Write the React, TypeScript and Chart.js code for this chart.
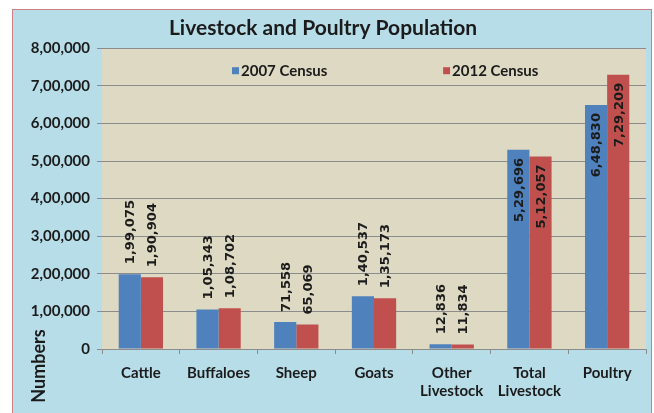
import React, { useEffect, useRef } from "react";
import { Chart, registerables } from "chart.js";

Chart.register(...registerables);

const title = "Livestock and Poultry Population";
const yAxisTitle = "Numbers";
const categories: (string | string[])[] = [
  "Cattle",
  "Buffaloes",
  "Sheep",
  "Goats",
  ["Other", "Livestock"],
  ["Total", "Livestock"],
  "Poultry",
];
const seriesNames = ["2007 Census", "2012 Census"];
const census2007 = [199075, 105343, 71558, 140537, 12836, 529696, 648830];
const census2012 = [190904, 108702, 65069, 135173, 11834, 512057, 729209];
const yMin = 0;
const yMax = 800000;
const yStep = 100000;

const BLUE = "#4f81bd";
const RED = "#c0504d";
const TEXT = "#1b1b1b";
const GRID = "#8c8c8c";

function indian(n: number): string {
  const s = String(Math.round(n));
  if (s.length <= 3) return s;
  const last3 = s.slice(-3);
  const rest = s.slice(0, -3).replace(/\B(?=(\d{2})+(?!\d))/g, ",");
  return rest + "," + last3;
}

const framePlugin = {
  id: "frame",
  beforeDraw(chart: any) {
    const { ctx, width, height, chartArea } = chart;
    ctx.save();
    ctx.fillStyle = "#ffffff";
    ctx.fillRect(0, 0, width, height);
    ctx.fillStyle = "#b7dde8";
    ctx.fillRect(12, 9, 640, height);
    ctx.strokeStyle = "#cf7f86";
    ctx.lineWidth = 1;
    ctx.strokeRect(12.5, 9.5, 639, height + 5);
    ctx.fillStyle = "#ddd9c3";
    ctx.fillRect(chartArea.left, chartArea.top, chartArea.right - chartArea.left, chartArea.bottom - chartArea.top);
    ctx.restore();
  },
};

const labelsPlugin = {
  id: "valueLabels",
  afterDatasetsDraw(chart: any) {
    const { ctx } = chart;
    ctx.save();
    ctx.font = "bold 13px 'DejaVu Sans'";
    ctx.fillStyle = TEXT;
    ctx.textBaseline = "middle";
    chart.data.datasets.forEach((ds: any, di: number) => {
      const meta = chart.getDatasetMeta(di);
      meta.data.forEach((bar: any, i: number) => {
        const v = ds.data[i] as number;
        const text = indian(v);
        ctx.save();
        ctx.translate(bar.x + 1, bar.y);
        ctx.rotate(-Math.PI / 2);
        if (v >= 400000) {
          ctx.textAlign = "right";
          ctx.fillText(text, -8, 0);
        } else {
          ctx.textAlign = "left";
          ctx.fillText(text, 10, 0);
        }
        ctx.restore();
      });
    });
    ctx.restore();
  },
};

const legendPlugin = {
  id: "insideLegend",
  afterDraw(chart: any) {
    const { ctx, chartArea } = chart;
    const w = chartArea.right - chartArea.left;
    const fracs = [0.239, 0.627];
    ctx.save();
    ctx.font = "bold 15px Lato";
    ctx.textBaseline = "middle";
    ctx.textAlign = "left";
    chart.data.datasets.forEach((ds: any, di: number) => {
      const x = chartArea.left + w * fracs[di];
      const y = chartArea.top + 22;
      ctx.fillStyle = ds.backgroundColor;
      ctx.fillRect(x, y - 3, 7, 7);
      ctx.fillStyle = TEXT;
      ctx.fillText(ds.label, x + 9, y + 1);
    });
    // y axis title
    ctx.translate(39, 366);
    ctx.rotate(-Math.PI / 2);
    ctx.font = "bold 18px Lato";
    ctx.textAlign = "center";
    ctx.fillStyle = TEXT;
    ctx.fillText(yAxisTitle, 0, 0);
    ctx.restore();
  },
};

export default function App() {
  const ref = useRef<HTMLCanvasElement | null>(null);

  useEffect(() => {
    document.body.style.margin = "0";
    const canvas = ref.current;
    if (!canvas) return;
    const chart = new Chart(canvas, {
      type: "bar",
      data: {
        labels: categories as any,
        datasets: [
          {
            label: seriesNames[0],
            data: census2007,
            backgroundColor: BLUE,
            categoryPercentage: 0.57,
            barPercentage: 1.0,
          },
          {
            label: seriesNames[1],
            data: census2012,
            backgroundColor: RED,
            categoryPercentage: 0.57,
            barPercentage: 1.0,
          },
        ],
      },
      options: {
        responsive: false,
        animation: false,
        devicePixelRatio: 1,
        layout: { padding: { left: 0, right: 8, top: 0, bottom: 0 } },
        plugins: {
          legend: { display: false },
          tooltip: { enabled: false },
          title: {
            display: true,
            text: title,
            color: TEXT,
            font: { family: "Lato", size: 21, weight: "bold" },
            padding: { top: 16, bottom: 7 },
          },
        },
        scales: {
          x: {
            grid: {
              drawOnChartArea: false,
              drawTicks: true,
              tickLength: 5,
              color: GRID,
              offset: true,
            },
            border: { display: true, color: GRID },
            ticks: {
              color: TEXT,
              font: { family: "Lato", size: 15, weight: "bold" },
              padding: 10,
              maxRotation: 0,
              autoSkip: false,
            },
            afterFit(scale: any) {
              scale.height = 64;
            },
          },
          y: {
            min: yMin,
            max: yMax,
            ticks: {
              stepSize: yStep,
              color: TEXT,
              font: { family: "Lato", size: 15, weight: "bold" },
              padding: 7,
              callback: (v: any) => indian(Number(v)),
            },
            grid: { color: GRID, tickLength: 5, drawTicks: true },
            border: { display: false },
            afterFit(scale: any) {
              scale.width = 102;
            },
          },
        },
      },
      plugins: [framePlugin, labelsPlugin, legendPlugin],
    });
    return () => chart.destroy();
  }, []);

  return (
    <div style={{ width: 654, height: 413 }}>
      <canvas ref={ref} width={654} height={413} style={{ display: "block" }} />
    </div>
  );
}
